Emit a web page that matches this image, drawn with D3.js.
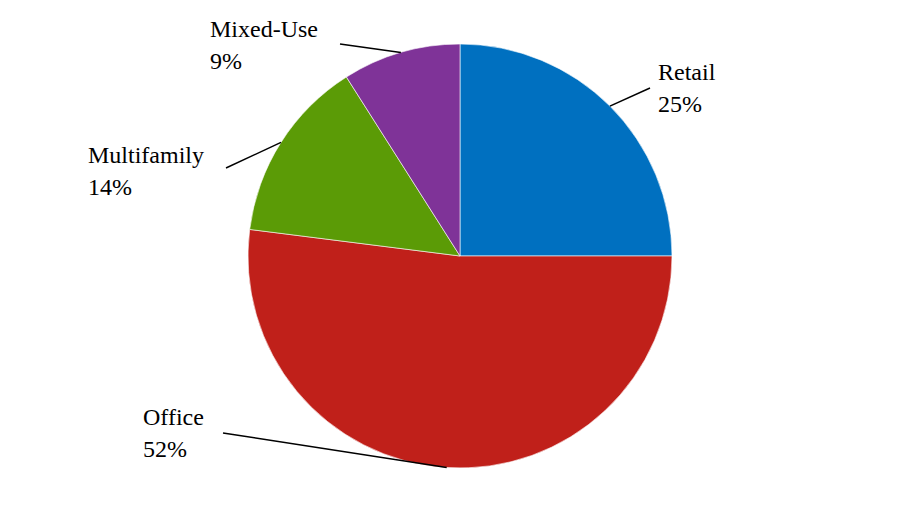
<!DOCTYPE html>
<html><head><meta charset="utf-8">
<script src="https://cdn.jsdelivr.net/npm/d3@7/dist/d3.min.js"></script>
<style>body{margin:0;background:#fff}svg{display:block}
text.lbl{font-family:"Liberation Serif","Times New Roman",Tinos,Times,"DejaVu Serif",serif;}
</style>
</head><body>
<svg id="chart" width="920" height="512"></svg>
<script>
const categories = ["Retail", "Office", "Multifamily", "Mixed-Use"];
const shares = [25, 52, 14, 9];
const colors = ["#0070C0", "#C0201A", "#5B9B06", "#7F3398"];
// label anchor (text left x, first baseline y) and leader-line outer end
const labelPos = [
  {tx: 658, ty: 80, lx: 650, ly: 88},
  {tx: 143, ty: 425, lx: 223, ly: 433},
  {tx: 88, ty: 163, lx: 226, ly: 168},
  {tx: 210, ty: 37, lx: 340, ly: 44}
];

const svg = d3.select("#chart");
const cx = 460, cy = 256, r = 212;
const data = categories.map((c, i) => ({name: c, value: shares[i], color: colors[i], pos: labelPos[i]}));
const pie = d3.pie().value(d => d.value).sort(null);
const arc = d3.arc().innerRadius(0).outerRadius(r);
const arcs = pie(data);
const g = svg.append("g").attr("transform", `translate(${cx},${cy})`);
g.selectAll("path").data(arcs).join("path")
  .attr("d", arc).attr("fill", d => d.data.color)
  .attr("stroke", "#ffffff").attr("stroke-width", 0.6);

// leader lines from slice edge at mid-angle
svg.selectAll("line.leader").data(arcs).join("line")
  .attr("class", "leader")
  .attr("x1", d => cx + r * Math.sin((d.startAngle + d.endAngle) / 2))
  .attr("y1", d => cy - r * Math.cos((d.startAngle + d.endAngle) / 2))
  .attr("x2", d => d.data.pos.lx).attr("y2", d => d.data.pos.ly)
  .attr("stroke", "#000").attr("stroke-width", 1.5);

const lbl = svg.selectAll("text.lbl").data(arcs).join("text")
  .attr("class", "lbl")
  .attr("font-size", 24).attr("fill", "#000");
lbl.append("tspan").attr("x", d => d.data.pos.tx).attr("y", d => d.data.pos.ty).text(d => d.data.name);
lbl.append("tspan").attr("x", d => d.data.pos.tx).attr("y", d => d.data.pos.ty + 32).text(d => d.data.value + "%");
</script>
</body></html>
